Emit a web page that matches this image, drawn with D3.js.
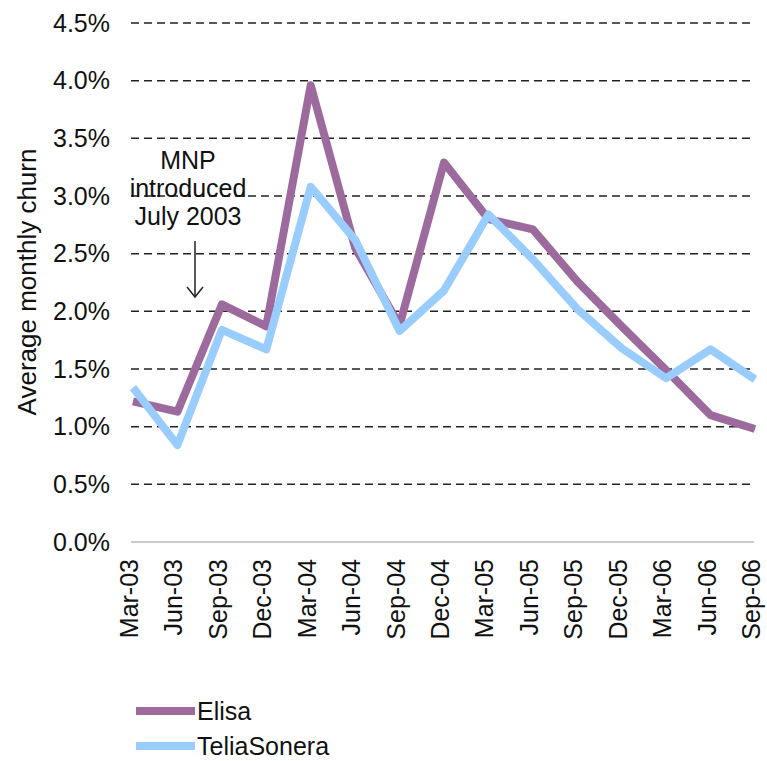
<!DOCTYPE html>
<html>
<head>
<meta charset="utf-8">
<script src="https://cdn.jsdelivr.net/npm/d3@7"></script>
<style>
  body { margin: 0; background: #fff; }
  text { font-family: "Liberation Sans", Arial, sans-serif; fill: #111; }
</style>
</head>
<body>
<script>
const width = 767;
const height = 761;

// 数据
const quarters = ["Mar-03","Jun-03","Sep-03","Dec-03","Mar-04","Jun-04","Sep-04","Dec-04",
                  "Mar-05","Jun-05","Sep-05","Dec-05","Mar-06","Jun-06","Sep-06"];
const elisa = [1.22, 1.13, 2.06, 1.87, 3.96, 2.55, 1.88, 3.29, 2.80, 2.71, 2.26, 1.87, 1.49, 1.10, 0.98];
const teliaSonera = [1.34, 0.84, 1.84, 1.67, 3.08, 2.62, 1.83, 2.18, 2.84, 2.45, 2.02, 1.68, 1.42, 1.67, 1.41];
const yTicks = [0, 0.5, 1, 1.5, 2, 2.5, 3, 3.5, 4, 4.5];
const seriesNames = ["Elisa", "TeliaSonera"];
const seriesColors = ["#9c6a9c", "#99ccff"];
const note = ["MNP", "introduced", "July 2003"];

const svg = d3.select("body")
  .append("svg")
  .attr("width", width)
  .attr("height", height);

const x = d3.scalePoint()
  .domain(quarters)
  .range([133, 755]);

const y = d3.scaleLinear()
  .domain([0, 4.5])
  .range([542, 23]);

// 网格线 (虚线)
svg.selectAll(".grid")
  .data(yTicks.filter(d => d > 0))
  .enter()
  .append("line")
  .attr("class", "grid")
  .attr("x1", 131)
  .attr("x2", 755)
  .attr("y1", d => y(d))
  .attr("y2", d => y(d))
  .attr("stroke", "#222")
  .attr("stroke-width", 1.5)
  .attr("stroke-dasharray", "8,5");

// x 轴线
svg.append("line")
  .attr("x1", 131)
  .attr("x2", 754)
  .attr("y1", y(0))
  .attr("y2", y(0))
  .attr("stroke", "#bbb")
  .attr("stroke-width", 1.5);

// y 轴刻度
svg.selectAll(".ytick")
  .data(yTicks)
  .enter()
  .append("text")
  .attr("class", "ytick")
  .attr("x", 110)
  .attr("y", d => y(d))
  .attr("dy", "0.35em")
  .attr("text-anchor", "end")
  .attr("font-size", 25)
  .text(d => d3.format(".1f")(d) + "%");

// x 轴刻度 (旋转)
svg.selectAll(".xtick")
  .data(quarters)
  .enter()
  .append("text")
  .attr("class", "xtick")
  .attr("transform", d => `translate(${x(d) - 2},559) rotate(-90)`)
  .attr("dy", "0.28em")
  .attr("text-anchor", "end")
  .attr("font-size", 25)
  .text(d => d);

// y 轴标题
svg.append("text")
  .attr("transform", "translate(36,282) rotate(-90)")
  .attr("text-anchor", "middle")
  .attr("font-size", 26)
  .text("Average monthly churn");

// 折线
const line = d3.line()
  .x((d, i) => x(quarters[i]))
  .y(d => y(d));

[elisa, teliaSonera].forEach((s, k) => {
  svg.append("path")
    .datum(s)
    .attr("d", line)
    .attr("fill", "none")
    .attr("stroke", seriesColors[k])
    .attr("stroke-width", 8)
    .attr("stroke-linejoin", "round");
});

// 注释
svg.selectAll(".note")
  .data(note)
  .enter()
  .append("text")
  .attr("class", "note")
  .attr("x", 188)
  .attr("y", (d, i) => 169 + i * 28)
  .attr("text-anchor", "middle")
  .attr("font-size", 25)
  .text(d => d);

const ax = 195;
svg.append("line")
  .attr("x1", ax).attr("x2", ax)
  .attr("y1", 241).attr("y2", 297)
  .attr("stroke", "#222").attr("stroke-width", 1.5);
svg.append("path")
  .attr("d", `M${ax - 8},${287} L${ax},${297} L${ax + 8},${287}`)
  .attr("fill", "none")
  .attr("stroke", "#222")
  .attr("stroke-width", 1.5);

// 图例
const legend = svg.selectAll(".legend")
  .data(seriesNames)
  .enter()
  .append("g")
  .attr("class", "legend")
  .attr("transform", (d, i) => `translate(136,${711 + i * 35})`);

legend.append("line")
  .attr("x1", 0).attr("x2", 59)
  .attr("y1", 0).attr("y2", 0)
  .attr("stroke", (d, i) => seriesColors[i])
  .attr("stroke-width", 8);

legend.append("text")
  .attr("x", 61)
  .attr("dy", "0.35em")
  .attr("font-size", 25)
  .text(d => d);
</script>
</body>
</html>
